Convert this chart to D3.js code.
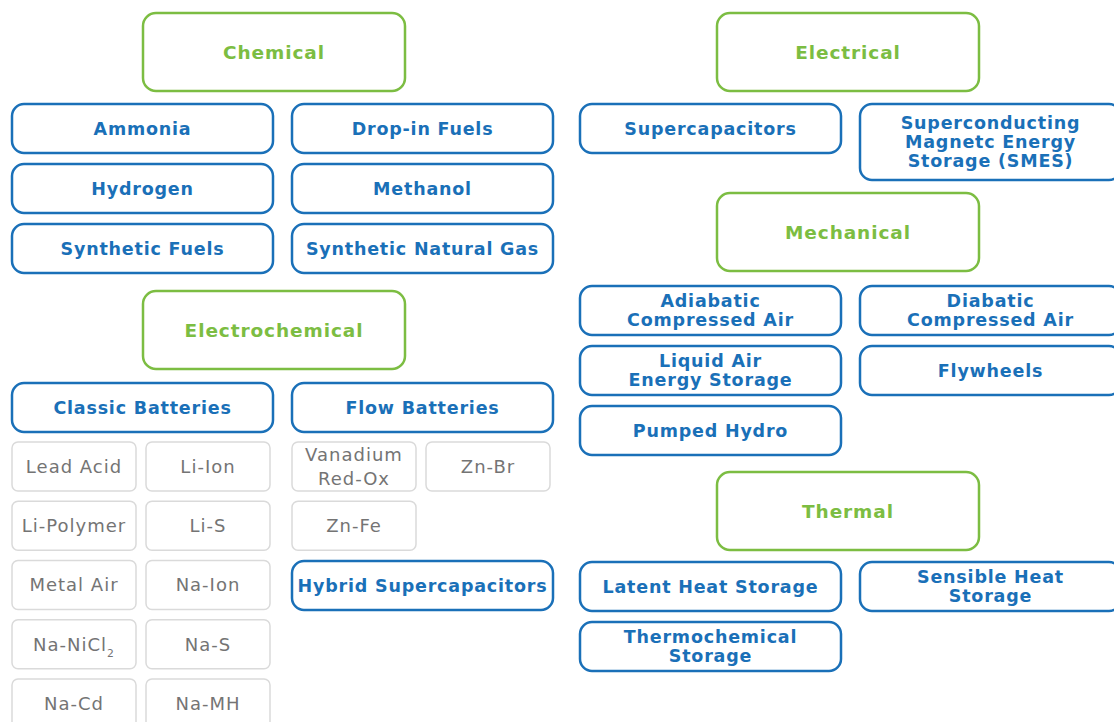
<!DOCTYPE html>
<html>
<head>
<meta charset="utf-8">
<script src="https://cdn.jsdelivr.net/npm/d3@7"></script>
<style>
  html, body { margin: 0; padding: 0; background: #ffffff; }
  svg { display: block; }
</style>
</head>
<body>
<svg id="chart" width="1114" height="722"></svg>
<script>
// ---- data ----
const categories = ["Chemical", "Electrochemical", "Electrical", "Mechanical", "Thermal"];
const chemical = ["Ammonia", "Drop-in Fuels", "Hydrogen", "Methanol", "Synthetic Fuels", "Synthetic Natural Gas"];
const electrochemical = ["Classic Batteries", "Flow Batteries"];
const classicBatteries = ["Lead Acid", "Li-Ion", "Li-Polymer", "Li-S", "Metal Air", "Na-Ion", "Na-NiCl_2", "Na-S", "Na-Cd", "Na-MH"];
const flowBatteries = ["Vanadium\nRed-Ox", "Zn-Br", "Zn-Fe"];
const hybridStorage = ["Hybrid Supercapacitors"];
const electrical = ["Supercapacitors", "Superconducting\nMagnetc Energy\nStorage (SMES)"];
const mechanical = ["Adiabatic\nCompressed Air", "Diabatic\nCompressed Air", "Liquid Air\nEnergy Storage", "Flywheels", "Pumped Hydro"];
const thermal = ["Latent Heat Storage", "Sensible Heat\nStorage", "Thermochemical\nStorage"];

// ---- styles ----
const BLUE = "#1a70b8", GREEN = "#7cbd42", GRAY_TXT = "#747474", GRAY_LINE = "#dadada";
const FONT = "'DejaVu Sans', sans-serif";

const svg = d3.select("#chart");

// layout scales
const leftCol = d3.scaleLinear().domain([0, 1]).range([12, 292]);
const rightCol = d3.scaleLinear().domain([0, 1]).range([580, 860]);
const grayCol = d3.scaleLinear().domain([0, 1, 2, 3]).range([12, 146, 292, 426]);
const headerX = d3.scaleOrdinal().domain(["L", "R"]).range([143, 717]);
const rowStep = d3.scaleLinear().domain([0, 1]).range([0, 60]);
const grayRow = d3.scaleLinear().domain([0, 1]).range([442, 501.25]);

const styles = {
  header: { stroke: GREEN, sw: 2.5, r: 13, fill: GREEN, weight: "bold", size: 18.5, ls: 0.9, lh: 19 },
  blue:   { stroke: BLUE, sw: 2.5, r: 12, fill: BLUE, weight: "bold", size: 17.5, ls: 0.8, lh: 19 },
  gray:   { stroke: GRAY_LINE, sw: 1.5, r: 6, fill: GRAY_TXT, weight: "normal", size: 18, ls: 1.0, lh: 24 }
};

function drawBox(x, y, w, h, label, st) {
  const g = svg.append("g");
  g.append("rect")
    .attr("x", x).attr("y", y).attr("width", w).attr("height", h)
    .attr("rx", st.r).attr("ry", st.r)
    .attr("fill", "#ffffff")
    .attr("stroke", st.stroke).attr("stroke-width", st.sw);
  const lines = label.split("\n");
  const cx = x + w / 2, cy = y + h / 2;
  const t = g.append("text")
    .attr("text-anchor", "middle")
    .attr("font-family", FONT)
    .attr("font-size", st.size)
    .attr("font-weight", st.weight)
    .attr("letter-spacing", st.ls)
    .attr("fill", st.fill);
  lines.forEach((ln, i) => {
    const yy = cy + (i - (lines.length - 1) / 2) * st.lh;
    const parts = ln.split("_");
    t.append("tspan").attr("x", cx).attr("y", yy).attr("dy", "0.36em").text(parts[0]);
    if (parts.length > 1) {
      t.append("tspan").attr("font-size", st.size * 0.6).attr("dy", "0.55em").text(parts[1]);
    }
  });
  return g;
}

const HW = 262, HH = 78, BW = 261, BH = 49, GW = 124, GH = 49;

// headers
drawBox(headerX("L"), 13, HW, HH, categories[0], styles.header);
drawBox(headerX("L"), 291, HW, HH, categories[1], styles.header);
drawBox(headerX("R"), 13, HW, HH, categories[2], styles.header);
drawBox(headerX("R"), 193, HW, HH, categories[3], styles.header);
drawBox(headerX("R"), 472, HW, HH, categories[4], styles.header);

// chemical
chemical.forEach((d, i) => {
  drawBox(leftCol(i % 2), 104 + rowStep(Math.floor(i / 2)), BW, BH, d, styles.blue);
});

// electrochemical sub-headers
electrochemical.forEach((d, i) => {
  drawBox(leftCol(i), 383, BW, BH, d, styles.blue);
});

// classic batteries grid
classicBatteries.forEach((d, i) => {
  drawBox(grayCol(i % 2), grayRow(Math.floor(i / 2)), GW, GH, d, styles.gray);
});

// flow batteries grid
flowBatteries.forEach((d, i) => {
  drawBox(grayCol(2 + (i % 2)), grayRow(Math.floor(i / 2)), GW, GH, d, styles.gray);
});

// hybrid
hybridStorage.forEach((d) => {
  drawBox(leftCol(1), 561, BW, BH, d, styles.blue);
});

// electrical
electrical.forEach((d, i) => {
  drawBox(rightCol(i), 104, BW, i === 1 ? 76 : BH, d, styles.blue);
});

// mechanical
mechanical.forEach((d, i) => {
  drawBox(rightCol(i % 2), 286 + rowStep(Math.floor(i / 2)), BW, BH, d, styles.blue);
});

// thermal
thermal.forEach((d, i) => {
  drawBox(rightCol(i % 2), 562 + rowStep(Math.floor(i / 2)), BW, BH, d, styles.blue);
});
</script>
</body>
</html>
